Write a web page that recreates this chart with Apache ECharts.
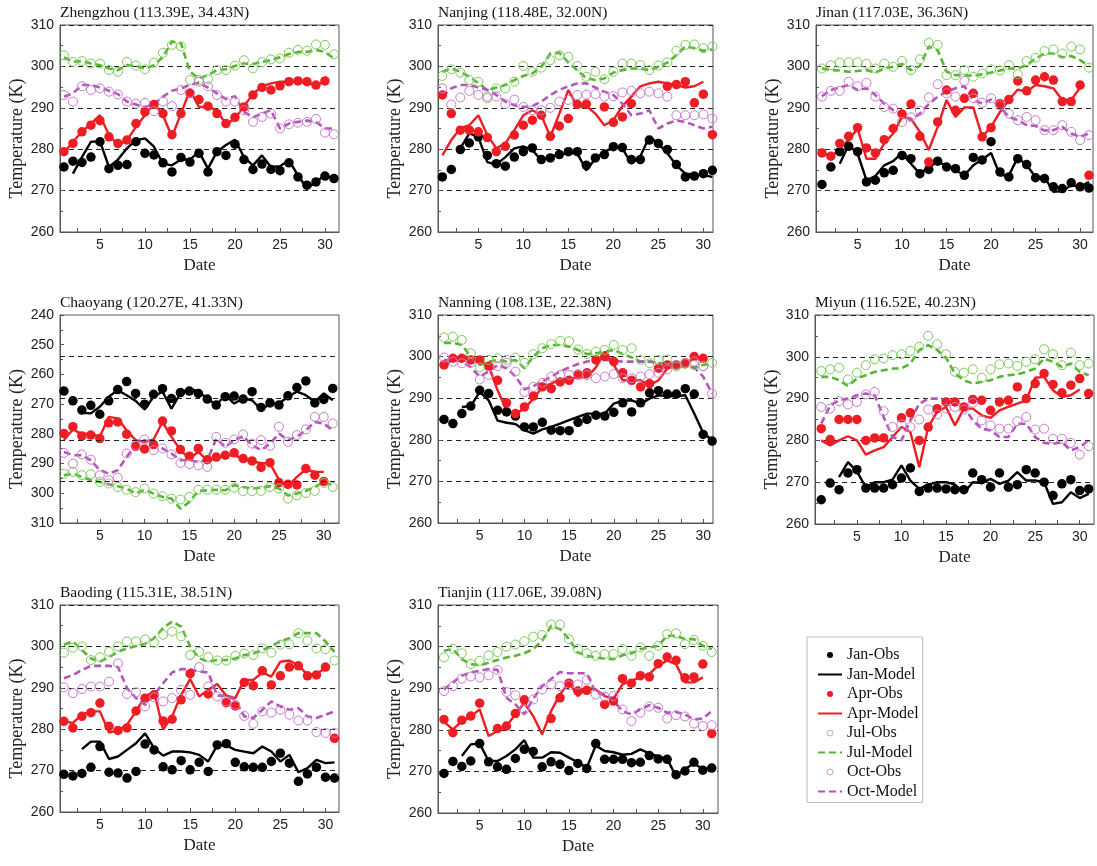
<!DOCTYPE html>
<html><head><meta charset="utf-8">
<script src="https://cdn.jsdelivr.net/npm/echarts@6/dist/echarts.min.js"></script>
<style>html,body{margin:0;padding:0;background:#fff}#c{width:1097px;height:866px}</style>
</head><body><div id="c"></div>
<script>
// ---------------- data (Temperature, K; index = date 1..31) ----------------
const zzJanObs=[275.7,277.1,276.8,278.1,281.8,275.3,276.1,276.3,281.8,279.0,278.6,276.7,274.5,278.0,276.9,279.0,274.5,279.4,278.5,281.2,277.5,275.1,276.4,275.1,274.8,276.7,273.3,271.3,272.1,273.5,272.9];
const zzJanMod=[null,274.1,278.1,281.8,281.9,275.7,277.5,280.2,282.2,282.6,280.6,276.5,276.1,277.5,277.5,279.4,275.3,279.4,281.0,282.3,278.1,276.1,278.5,275.7,275.9,277.3,273.7,270.5,272.1,273.7,272.9];
const zzAprObs=[279.4,281.4,284.2,285.8,286.9,283.0,281.4,282.2,286.2,289.0,290.8,288.6,283.5,288.6,293.5,292.0,290.4,288.6,286.2,287.7,290.2,293.1,294.9,294.3,295.3,296.3,296.5,296.3,295.5,296.5,null];
const zzAprMod=[279.1,281.8,284.2,286.2,288.2,283.4,281.0,282.2,285.4,288.2,291.0,288.2,283.0,288.6,294.3,290.2,290.2,289.4,286.0,287.4,290.4,293.3,295.2,295.9,296.3,296.3,296.3,296.0,295.5,296.3,null];
const zzJulObs=[302.7,301.1,301.3,300.7,300.7,299.1,298.7,301.1,300.2,299.3,300.9,303.3,305.2,304.8,296.7,296.7,296.9,299.1,299.1,300.2,301.5,299.5,301.0,301.7,301.9,303.3,304.0,303.8,305.3,305.2,302.9];
const zzJulMod=[302.2,301.1,301.3,300.7,300.3,299.5,299.1,300.3,300.1,299.5,300.3,302.3,306.0,305.6,298.7,297.1,297.9,299.1,299.3,300.1,300.7,300.6,301.1,301.5,302.2,303.0,303.5,303.5,304.0,303.5,301.9];
const zzOctObs=[293.1,291.5,295.2,294.3,294.7,293.9,293.2,291.5,291.0,291.2,289.2,291.5,290.4,294.3,293.6,296.3,295.2,293.1,291.5,291.5,289.4,286.6,287.8,288.6,285.0,286.0,286.4,286.6,287.3,284.0,283.6];
const zzOctMod=[292.7,293.5,295.5,295.5,294.9,294.1,293.3,291.5,290.8,290.2,290.9,292.7,294.1,294.7,295.5,296.1,294.9,293.5,292.1,292.8,289.0,287.7,288.6,289.4,285.0,286.2,286.6,286.9,286.6,285.0,285.0];

const njJanObs=[273.3,275.1,279.9,281.5,283.0,278.5,276.5,275.9,278.1,279.4,280.3,277.5,277.9,278.7,279.4,279.4,276.1,277.9,278.7,280.6,280.4,277.5,277.5,282.2,281.4,279.9,276.3,273.3,273.5,274.1,274.9];
const njJanMod=[null,null,280.2,283.8,283.0,276.9,276.3,278.1,280.2,280.7,279.8,277.3,278.3,278.7,279.0,279.0,274.9,277.7,279.4,280.4,280.2,276.5,278.3,283.0,281.4,279.0,276.1,274.1,273.9,273.7,273.3];
const njAprObs=[293.1,288.6,284.6,284.6,284.2,282.8,279.4,280.7,283.4,285.8,287.0,288.2,283.1,285.6,287.4,290.8,290.9,null,290.2,286.5,287.8,291.0,null,null,null,295.2,295.6,296.3,291.2,293.3,283.5];
const njAprMod=[278.5,282.2,285.0,285.8,288.2,283.4,280.2,281.4,284.6,288.2,289.4,288.2,283.0,288.6,294.3,290.2,290.4,288.6,285.8,287.0,290.4,292.7,295.2,295.9,296.3,295.9,295.5,294.9,295.2,296.3,null];
const njJulObs=[297.7,299.3,298.5,296.7,296.3,292.3,294.7,294.7,296.3,300.1,298.7,299.7,301.5,302.7,302.3,300.1,297.5,298.7,296.9,298.7,300.7,300.7,300.3,299.1,300.2,301.0,303.8,305.2,305.3,304.4,304.8];
const njJulMod=[298.7,299.5,298.7,297.5,296.0,294.3,294.9,295.5,296.7,297.7,298.3,299.9,303.1,303.3,300.9,299.1,297.1,296.7,297.1,298.5,299.1,299.5,299.5,299.1,299.9,300.9,302.7,304.8,304.4,303.8,304.1];
const njOctObs=[294.7,290.8,292.5,294.1,293.1,292.7,292.7,290.9,292.0,290.2,289.4,289.4,290.0,291.5,291.9,293.1,293.2,293.3,292.7,292.8,293.7,294.1,293.5,293.9,293.5,292.7,288.2,288.2,288.2,288.4,287.4];
const njOctMod=[292.7,294.7,295.5,295.5,294.9,294.3,293.1,291.5,290.6,290.2,290.4,291.5,293.1,294.3,295.2,295.9,295.9,294.9,293.9,293.1,291.0,288.2,288.6,289.4,285.0,286.2,286.9,286.6,285.8,285.0,285.4];

const jnJanObs=[271.5,275.7,279.4,280.7,279.4,272.1,272.5,274.3,274.9,278.5,277.7,274.1,275.1,277.1,275.7,275.3,273.7,278.0,277.4,281.8,274.5,273.3,277.7,276.3,273.1,272.9,270.9,270.5,271.9,270.9,270.6];
const jnJanMod=[null,null,276.5,281.0,279.0,272.5,273.5,276.1,277.1,279.1,276.5,274.1,275.7,276.9,276.1,274.9,273.7,276.1,277.5,279.1,273.7,273.7,278.0,276.1,273.3,273.3,269.7,269.9,271.3,270.9,272.1];
const jnAprObs=[279.1,278.3,281.4,283.1,285.2,280.3,279.1,282.3,285.0,288.5,290.9,283.1,276.9,286.6,294.3,289.4,292.3,293.5,283.0,285.2,291.0,292.0,296.5,294.1,296.7,297.5,296.7,291.5,291.5,295.5,273.7];
const jnAprMod=[279.4,278.1,280.2,282.2,285.0,277.7,277.7,281.4,283.8,287.8,287.4,284.2,279.8,285.4,291.9,287.8,290.1,290.1,283.0,285.4,289.0,291.9,294.4,293.9,295.5,295.2,294.7,291.9,291.9,294.9,null];
const jnJulObs=[299.5,300.3,300.9,301.0,301.0,300.6,299.5,300.7,299.9,301.3,299.1,301.7,305.7,305.2,297.9,297.9,299.1,297.5,298.3,299.3,299.0,300.3,298.1,301.3,302.1,303.7,304.1,303.1,304.8,304.1,299.7];
const jnJulMod=[299.5,299.1,299.0,298.7,298.9,299.1,298.5,299.5,299.9,300.6,299.1,300.1,304.8,303.9,298.7,297.9,297.9,297.7,298.1,298.5,299.0,299.5,299.5,300.3,301.9,303.1,303.1,302.2,302.5,301.5,300.1];
const jnOctObs=[292.7,294.1,294.1,296.3,295.2,296.0,292.7,290.2,289.8,286.6,287.7,289.3,292.5,295.7,293.5,292.7,296.5,292.3,291.2,292.3,290.6,288.6,287.0,287.8,287.0,284.6,284.6,285.8,284.2,282.2,283.4];
const jnOctMod=[292.8,294.3,294.9,295.5,294.3,294.7,293.1,291.0,289.4,288.6,287.0,288.6,290.9,292.7,293.9,294.7,295.2,291.9,291.0,292.0,290.2,287.8,287.0,285.8,285.6,284.5,284.6,285.4,283.8,283.0,283.8];

const cyJanObs=[265.6,268.9,272.0,270.4,273.4,268.9,265.1,262.4,266.4,270.0,266.7,264.8,268.1,266.1,265.6,266.4,268.3,270.3,267.5,267.3,268.3,265.8,271.1,269.6,270.3,267.2,264.4,262.2,269.6,268.4,264.7];
const cyJanMod=[null,null,272.9,273.1,270.9,267.5,265.3,267.0,268.9,271.8,267.5,265.8,271.5,266.4,264.7,265.8,268.1,270.3,267.0,269.8,268.1,268.7,271.8,270.0,269.8,267.5,265.8,267.0,269.2,266.4,268.7];
const cyAprObs=[279.9,277.6,280.7,280.4,281.6,276.3,276.0,280.1,284.2,285.1,283.6,275.7,279.0,285.3,287.5,284.9,288.7,287.8,287.2,286.4,288.3,289.1,291.3,289.7,296.4,297.0,297.2,291.7,293.9,296.0,null];
const cyAprMod=[282.1,278.5,280.1,279.9,281.0,274.3,274.8,278.8,282.1,282.7,281.9,276.0,281.0,285.5,288.3,286.1,288.9,288.3,287.2,287.2,288.3,289.4,289.8,290.0,295.4,297.6,294.5,292.0,292.8,292.8,null];
const cyJulObs=[293.4,292.8,293.9,293.6,296.2,296.7,297.9,298.8,299.6,298.4,300.1,301.0,301.8,302.1,301.2,298.8,298.8,298.8,298.8,298.1,299.3,299.3,299.2,297.9,298.4,301.8,300.7,299.9,299.2,296.5,297.9];
const cyJulMod=[293.9,293.4,294.5,295.6,296.2,297.0,297.6,298.4,300.1,298.8,300.1,301.2,301.8,305.2,302.9,299.2,299.0,298.8,299.0,297.3,297.9,298.4,298.1,297.6,298.4,300.7,300.1,299.2,297.9,296.2,297.3];
const cyOctObs=[286.4,290.0,286.9,288.7,293.9,295.6,294.7,286.6,283.8,281.9,285.5,284.9,286.9,289.8,290.2,290.6,291.1,281.0,283.0,281.9,280.2,283.3,282.1,284.0,277.6,282.7,280.4,278.5,274.3,274.3,276.5];
const cyOctMod=[286.1,287.2,287.2,288.9,292.2,293.4,292.2,287.8,283.8,282.1,283.3,284.9,286.6,288.9,288.9,289.4,288.9,281.6,284.4,282.1,280.8,283.8,285.5,283.3,279.9,282.1,281.0,278.8,276.0,276.5,278.8];

const nnJanObs=[284.9,283.9,286.3,288.1,291.9,291.1,287.1,286.7,285.7,283.1,283.1,284.2,282.3,282.2,282.2,284.2,284.9,285.9,285.7,286.6,288.9,286.7,288.9,291.3,291.8,291.0,291.0,292.3,291.0,281.3,279.7];
const nnJanMod=[null,null,287.9,288.1,291.5,289.5,284.6,284.1,283.8,282.3,281.5,282.5,283.1,283.9,284.7,285.5,286.3,286.3,286.3,288.7,289.4,289.5,288.7,289.9,290.7,290.5,290.5,290.7,286.3,281.7,279.9];
const nnAprObs=[298.0,299.6,299.6,299.2,299.2,297.7,294.3,288.9,286.3,287.9,290.5,292.7,292.3,293.9,294.3,295.6,296.1,299.2,300.0,298.8,296.1,294.3,292.7,293.5,297.2,298.0,298.0,298.5,300.0,299.6,null];
const nnAprMod=[297.2,299.8,299.8,299.2,298.8,297.7,291.9,287.1,286.3,287.5,289.9,292.7,293.5,294.5,294.7,295.0,295.0,297.4,301.2,298.0,294.3,294.3,294.3,293.1,294.3,297.2,298.0,298.0,299.9,299.2,null];
const nnJulObs=[304.6,304.8,304.0,300.8,297.4,299.2,299.6,299.2,299.8,298.5,300.6,302.0,303.0,303.8,303.7,301.7,300.6,301.2,301.6,302.8,301.6,302.0,299.2,298.4,299.2,299.3,297.6,298.4,298.0,297.7,298.5];
const nnJulMod=[303.3,303.3,302.8,300.0,298.0,298.8,299.2,298.8,299.2,297.2,300.0,302.0,302.8,302.8,302.4,301.6,300.6,300.8,301.2,301.6,300.6,299.8,298.8,298.8,298.4,298.4,298.0,297.4,297.4,298.0,298.4];
const nnOctObs=[299.8,298.8,298.4,298.5,294.5,295.6,297.7,298.5,296.4,291.5,292.7,293.7,295.2,295.6,295.6,295.8,295.6,294.8,295.2,295.8,294.8,294.8,295.2,295.8,296.1,296.9,298.0,298.5,298.8,297.7,291.1];
const nnOctMod=[299.2,299.2,298.8,297.4,295.2,296.4,298.0,297.2,295.2,292.1,292.9,294.0,295.2,296.4,297.4,298.2,298.8,299.2,299.2,299.0,298.8,298.8,298.8,298.8,298.5,298.2,298.0,297.7,297.4,295.2,291.1];

const myJanObs=[265.8,269.8,268.2,272.2,273.0,268.6,268.6,268.6,269.4,271.0,273.4,267.8,268.6,268.6,268.4,268.2,268.2,272.2,270.6,268.8,272.2,268.8,269.4,273.0,272.2,270.0,266.8,269.6,270.6,268.0,268.4];
const myJanMod=[null,null,271.2,274.8,272.6,268.8,270.0,270.0,270.6,274.0,270.4,268.4,269.4,270.0,270.0,269.4,267.4,270.0,269.8,270.8,269.6,270.4,272.4,270.4,270.4,270.0,264.8,265.2,267.6,266.2,267.2];
const myAprObs=[282.8,280.2,285.0,285.0,285.0,280.0,280.6,280.6,null,285.4,286.6,280.0,283.2,287.6,289.2,289.2,288.0,289.8,289.6,287.2,289.2,289.6,292.8,290.0,293.6,296.0,293.4,291.4,293.2,294.8,291.2];
const myAprMod=[280.0,278.8,280.0,281.0,280.0,276.6,277.6,278.4,280.8,283.2,282.0,273.6,283.2,286.8,288.0,283.6,287.6,287.6,286.0,285.4,287.2,288.0,288.8,289.6,295.0,295.2,292.0,290.4,290.8,292.2,null];
const myJulObs=[296.6,297.0,297.4,294.6,296.2,298.0,299.4,299.6,300.4,300.6,301.4,302.4,305.0,303.0,300.6,296.4,296.2,297.0,295.0,297.0,298.2,298.4,297.8,298.8,299.4,301.8,300.6,298.0,301.0,298.0,298.4];
const myJulMod=[295.2,295.2,294.4,293.0,294.8,295.6,296.4,296.8,297.2,297.2,298.4,301.6,302.8,301.6,299.8,296.0,294.4,293.6,294.0,294.4,295.2,295.6,295.8,296.4,297.2,299.6,298.8,297.6,298.4,296.4,295.6];
const myOctObs=[288.0,287.6,289.4,288.6,289.2,291.0,291.6,287.0,283.2,283.8,283.2,285.0,287.4,286.2,287.6,288.0,287.4,289.0,284.8,283.6,282.8,282.8,284.6,285.6,282.6,282.8,280.4,280.4,279.4,276.6,278.6];
const myOctMod=[284.0,288.4,289.6,290.0,290.8,291.2,290.8,285.6,280.8,280.0,284.8,288.8,290.0,290.0,289.8,289.6,288.0,284.8,282.8,282.4,280.8,280.8,284.0,284.0,280.8,279.4,279.2,279.6,277.6,278.4,280.0];

const bdJanObs=[269.1,268.7,269.3,270.8,275.8,269.6,269.4,268.2,269.8,276.4,275.0,270.9,270.2,272.4,270.2,272.0,269.8,276.2,276.5,272.0,270.9,270.8,270.8,272.2,274.2,271.8,267.4,269.2,270.8,268.4,268.2];
const bdJanMod=[null,null,275.2,277.0,277.0,272.8,273.4,275.0,276.6,279.0,275.4,273.6,274.6,274.6,274.4,273.8,272.2,276.1,276.1,275.0,274.6,274.2,275.8,274.6,272.2,273.8,269.6,270.6,272.6,271.8,272.0];
const bdAprObs=[281.9,280.3,283.1,284.0,286.3,280.7,279.7,280.3,284.4,287.5,288.3,282.0,282.4,287.1,293.4,null,288.5,null,286.4,285.6,291.3,290.5,294.1,290.7,292.9,295.0,295.3,292.9,293.1,295.0,277.8];
const bdAprMod=[281.9,281.5,283.5,284.3,284.3,279.2,279.7,281.1,284.3,287.9,289.1,279.9,283.1,288.3,292.1,287.9,289.5,290.9,288.1,287.5,291.9,291.9,293.7,292.7,296.3,296.6,295.5,293.1,293.4,294.7,null];
const bdJulObs=[298.5,299.7,300.0,296.7,297.4,298.7,300.0,301.2,301.2,301.7,300.9,302.8,303.6,302.4,297.9,298.7,297.4,296.6,296.6,297.7,298.3,297.9,299.5,298.5,300.4,300.5,303.2,301.4,299.5,299.3,296.6];
const bdJulMod=[300.4,301.2,299.1,297.1,296.3,297.4,298.7,299.5,300.1,300.6,302.0,304.4,306.0,304.8,300.0,297.1,296.3,296.7,296.7,297.1,297.9,298.3,299.1,300.1,301.2,302.0,303.2,303.2,303.2,301.2,298.7];
const bdOctObs=[290.1,288.7,289.7,290.3,290.3,291.5,295.9,288.5,288.9,285.5,287.7,286.7,287.5,289.5,288.3,295.0,290.3,287.9,286.7,285.9,283.2,281.3,284.3,284.0,284.7,283.5,282.1,282.1,279.3,279.1,279.1];
const bdOctMod=[292.3,293.1,294.3,295.3,295.3,295.3,295.0,289.9,287.5,285.9,288.3,291.1,293.7,294.5,294.5,293.9,293.7,288.1,288.1,287.1,283.1,282.7,284.7,286.7,285.5,284.7,285.1,283.1,282.7,283.5,284.3];

const tjJanObs=[269.5,272.4,271.2,272.5,276.7,272.3,271.1,270.5,273.1,275.3,274.8,271.1,272.3,271.7,270.2,271.9,270.7,276.7,272.9,272.9,272.9,272.1,272.2,273.8,273.0,272.9,269.2,270.1,272.2,270.3,270.8];
const tjJanMod=[null,null,273.7,276.5,276.7,272.5,272.5,273.7,275.3,277.5,273.3,273.3,274.6,274.5,273.3,272.2,270.9,276.2,274.9,274.6,274.0,274.2,275.3,274.3,273.6,273.0,268.8,270.6,271.9,270.6,270.6];
const tjAprObs=[282.5,279.3,282.3,283.3,286.4,null,280.3,280.9,283.9,287.2,null,null,282.7,287.7,291.2,289.3,289.5,null,286.1,286.9,292.3,291.2,293.0,292.7,295.9,297.5,296.7,292.5,292.7,295.8,279.1];
const tjAprMod=[281.9,280.1,282.1,283.2,284.9,278.5,279.7,280.9,283.7,286.5,283.3,278.9,284.5,288.5,291.4,288.1,290.1,289.7,288.1,287.5,290.9,291.8,292.6,293.4,295.5,296.6,295.8,291.4,291.4,292.6,null];
const tjJulObs=[297.4,299.5,298.4,295.8,296.6,297.9,298.7,300.0,300.5,301.3,302.4,302.8,305.3,305.3,301.8,299.4,298.4,297.8,298.2,298.2,299.4,297.8,299.8,297.8,300.2,303.0,303.2,300.6,301.6,300.2,298.7];
const tjJulMod=[299.0,299.4,297.0,295.8,295.5,296.1,296.8,297.4,297.8,298.4,299.4,301.4,305.0,304.2,301.8,298.6,297.8,297.4,297.1,297.0,297.9,298.4,299.4,299.8,300.2,302.6,302.6,301.8,301.8,300.2,299.4];
const tjOctObs=[289.3,290.5,292.3,292.8,292.6,293.1,294.4,289.1,288.3,284.9,287.3,289.7,290.9,290.5,290.7,290.9,292.0,288.5,288.0,288.1,284.9,282.1,284.1,285.6,285.3,282.7,283.5,283.2,281.5,280.9,281.1];
const tjOctMod=[289.7,291.4,293.0,293.8,294.2,294.6,294.4,287.7,286.1,283.7,287.5,290.5,292.2,293.9,293.6,293.6,293.6,288.9,288.5,286.9,284.5,283.7,284.9,285.9,285.3,284.1,284.3,283.7,282.5,282.7,284.5];

const seriesNames=['Jan-Obs','Jan-Model','Apr-Obs','Apr-Model','Jul-Obs','Jul-Model','Oct-Obs','Oct-Model'];
const stationTitles=['Zhengzhou (113.39E, 34.43N)','Nanjing (118.48E, 32.00N)','Jinan (117.03E, 36.36N)','Chaoyang (120.27E, 41.33N)','Nanning (108.13E, 22.38N)','Miyun (116.52E, 40.23N)','Baoding (115.31E, 38.51N)','Tianjin (117.06E, 39.08N)'];
const stationData=[
  [zzJanObs,zzJanMod,zzAprObs,zzAprMod,zzJulObs,zzJulMod,zzOctObs,zzOctMod],
  [njJanObs,njJanMod,njAprObs,njAprMod,njJulObs,njJulMod,njOctObs,njOctMod],
  [jnJanObs,jnJanMod,jnAprObs,jnAprMod,jnJulObs,jnJulMod,jnOctObs,jnOctMod],
  [cyJanObs,cyJanMod,cyAprObs,cyAprMod,cyJulObs,cyJulMod,cyOctObs,cyOctMod],
  [nnJanObs,nnJanMod,nnAprObs,nnAprMod,nnJulObs,nnJulMod,nnOctObs,nnOctMod],
  [myJanObs,myJanMod,myAprObs,myAprMod,myJulObs,myJulMod,myOctObs,myOctMod],
  [bdJanObs,bdJanMod,bdAprObs,bdAprMod,bdJulObs,bdJulMod,bdOctObs,bdOctMod],
  [tjJanObs,tjJanMod,tjAprObs,tjAprMod,tjJulObs,tjJulMod,tjOctObs,tjOctMod]
];
const dateTicks=[5,10,15,20,25,30];
const dateMinorTicks=[2.5,5,7.5,10,12.5,15,17.5,20,22.5,25,27.5,30];
const chaoyangRefLines=[254,268,282,296];

// ---------------- layout & style ----------------
const layout=[
  {left:60, top:25, width:279, height:207, xMin:0.56, xMax:31.56, yMin:260, yMax:310},
  {left:438,top:25, width:275, height:207, xMin:0.52, xMax:31.07, yMin:260, yMax:310},
  {left:816,top:25, width:277, height:207, xMin:0.33, xMax:31.45, yMin:260, yMax:310},
  {left:60, top:315,width:279, height:208, xMin:0.56, xMax:31.7,  yMin:240, yMax:310, inverse:true},
  {left:438,top:315,width:275, height:208, xMin:0.33, xMax:31.1,  yMin:260, yMax:310},
  {left:815,top:315,width:279, height:209, xMin:0.3,  xMax:31.6,  yMin:260, yMax:310},
  {left:60, top:605,width:279, height:207, xMin:0.57, xMax:31.5,  yMin:260, yMax:310},
  {left:438,top:605,width:280, height:208, xMin:0.33, xMax:31.7,  yMin:260, yMax:310}
];
const RED='#ee1d23', GREEN='#58b534', GREEN_O='#7ccb5c', MAG='#b455ba', MAG_O='#c97ccd';
const sty={
  'Jan-Obs':  {type:'scatter', size:9.5, itemStyle:{color:'#000',opacity:1}},
  'Jan-Model':{type:'line', lineStyle:{color:'#000',width:2.4,type:'solid'}},
  'Apr-Obs':  {type:'scatter', size:9.5, itemStyle:{color:RED,opacity:1}},
  'Apr-Model':{type:'line', lineStyle:{color:RED,width:2.4,type:'solid'}},
  'Jul-Obs':  {type:'scatter', size:9, itemStyle:{color:'rgba(0,0,0,0)',borderColor:GREEN_O,borderWidth:1,opacity:1}},
  'Jul-Model':{type:'line', lineStyle:{color:GREEN,width:2.6,type:[7,4]}},
  'Oct-Obs':  {type:'scatter', size:9, itemStyle:{color:'rgba(0,0,0,0)',borderColor:MAG_O,borderWidth:1,opacity:1}},
  'Oct-Model':{type:'line', lineStyle:{color:MAG,width:2.6,type:[7,4]}}
};
const SERIF='Liberation Serif', SANS='Liberation Sans';

const grids=[],xAxes=[],yAxes=[],series=[],titles=[];
layout.forEach((L,i)=>{
  grids.push({left:L.left,top:L.top,width:L.width,height:L.height,show:true,borderColor:'#555',borderWidth:1,containLabel:false});
  titles.push({text:stationTitles[i],left:L.left,top:L.top-20,padding:0,
    textStyle:{fontFamily:SERIF,fontSize:15.5,fontWeight:'normal',color:'#111'}});
  xAxes.push({type:'value',gridIndex:i,min:L.xMin,max:L.xMax,
    axisLine:{show:true,onZero:false,lineStyle:{color:'#555'}},
    axisTick:{show:true,inside:true,length:4,customValues:dateMinorTicks,lineStyle:{color:'#555'}},
    axisLabel:{customValues:dateTicks,fontFamily:SANS,fontSize:14,color:'#222',margin:6},
    splitLine:{show:false},
    name:'Date',nameLocation:'middle',nameGap:25,
    nameTextStyle:{fontFamily:SERIF,fontSize:17,color:'#222'}});
  yAxes.push({type:'value',gridIndex:i,min:L.yMin,max:L.yMax,interval:10,inverse:!!L.inverse,
    axisLine:{show:true,onZero:false,lineStyle:{color:'#555'}},
    axisTick:{show:true,inside:true,length:4,lineStyle:{color:'#555'}},
    minorTick:{show:true,splitNumber:2,length:3,lineStyle:{color:'#555'}},
    axisLabel:{fontFamily:SANS,fontSize:14,color:'#222',margin:6},
    splitLine:{show:!L.inverse,lineStyle:{color:'#222',type:[5,4],width:1.1}},
    name:'Temperature (K)',nameLocation:'middle',nameGap:32,
    nameTextStyle:{fontFamily:SERIF,fontSize:18,color:'#222',padding:[0,20,0,0]}});
  stationData[i].forEach((arr,k)=>{
    const nm=seriesNames[k], s=sty[nm];
    const data=[]; arr.forEach((v,d)=>{ if(v!=null) data.push([d+1,v]); });
    const o={name:nm,type:s.type,xAxisIndex:i,yAxisIndex:i,data:data,silent:true,animation:false};
    if(s.type==='scatter'){ Object.assign(o,{symbol:'circle',symbolSize:s.size,itemStyle:s.itemStyle,z:4}); }
    else { Object.assign(o,{symbol:'none',showSymbol:false,lineStyle:s.lineStyle,itemStyle:{color:s.lineStyle.color},z:3}); }
    if(L.inverse && k===0){
      o.markLine={silent:true,symbol:'none',label:{show:false},animation:false,
        lineStyle:{color:'#222',type:[5,4],width:1.1},
        data:chaoyangRefLines.map(v=>({yAxis:v}))};
    }
    series.push(o);
  });
});

// legend items: obs shown as small dots/thin circles, model shown as plain (dashed) lines
const legendData=seriesNames.map(nm=>{
  const s=sty[nm];
  if(s.type==='line'){
    return {name:nm,itemStyle:{color:'rgba(0,0,0,0)',borderColor:'rgba(0,0,0,0)',borderWidth:0,opacity:0}};
  }
  if(s.itemStyle.borderColor){
    return {name:nm,itemStyle:{color:'rgba(0,0,0,0)',borderColor:s.itemStyle.borderColor,borderWidth:0.8}};
  }
  return {name:nm};
});

const chart=echarts.init(document.getElementById('c'),null,{renderer:'canvas'});
chart.setOption({
  backgroundColor:'#fff',
  animation:false,
  title:titles,
  grid:grids, xAxis:xAxes, yAxis:yAxes, series:series,
  legend:{orient:'vertical',left:807,top:637,data:legendData,
    itemWidth:24,itemHeight:6,itemGap:3.5,
    padding:[10,4,3,10],borderColor:'#bbb',borderWidth:1,
    selectedMode:false,
    textStyle:{fontFamily:SERIF,fontSize:16,color:'#111',lineHeight:16}}
});
</script></body></html>
